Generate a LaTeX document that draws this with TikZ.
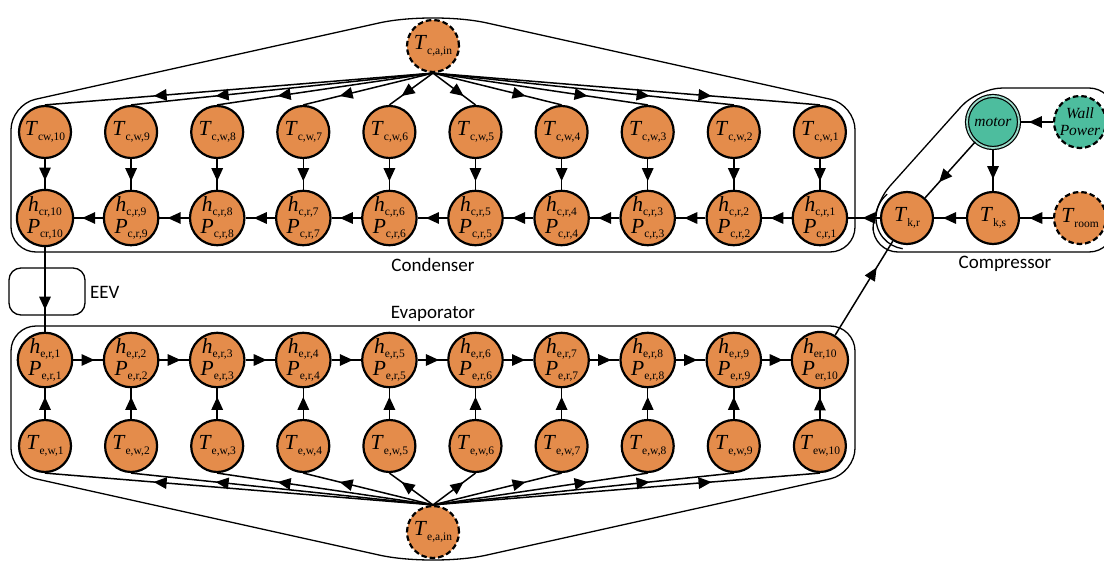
\documentclass[tikz,border=0pt]{standalone}
\usepackage{fontspec}
\setmainfont{Liberation Serif}
\newfontfamily\capfont{Carlito}
\usetikzlibrary{arrows.meta,decorations.markings}

\definecolor{nodeorange}{RGB}{228,140,75}
\definecolor{nodeteal}{RGB}{77,189,158}

% italic symbol with a small upright subscript
\newcommand\varsub[2]{\textit{#1}\raisebox{-4.5pt}{\fontsize{11.5}{11.5}\selectfont #2}}

\tikzset{
  var/.style={circle, draw=black, line width=2.2pt, fill=nodeorange,
    minimum size=52pt, inner sep=0pt, align=center,
    font=\fontsize{21.5}{22}\selectfont},
  obs/.style={var, dash pattern=on 5.5pt off 3pt},
  power/.style={obs, fill=nodeteal, font=\fontsize{15.5}{17}\selectfont},
  motornode/.style={circle, draw=black, line width=1.2pt, double=nodeteal!55!white,
    double distance=1.8pt, fill=nodeteal, minimum size=52pt, inner sep=0pt,
    font=\fontsize{15.5}{17}\selectfont\itshape},
  flow/.style={line width=1.5pt, postaction={decorate},
    decoration={markings, mark=at position #1 with {\arrow{Triangle[length=13pt,width=11.5pt]}}}},
  flow/.default=0.72,
  group/.style={line width=1.3pt, rounded corners=25pt},
  grouplabel/.style={font=\capfont\fontsize{19}{19}\selectfont, inner sep=0pt}
}

\begin{document}
\begin{tikzpicture}[x=1pt,y=1pt]
\useasboundingbox (0,0) rectangle (1104,-562);

% ---------- group outlines ----------
\draw[group] (433,-252) -- (11,-252) -- (11,-104.7) [rounded corners=55pt] -- (433,-11)
  [rounded corners=25pt] -- (855,-104.7) -- (855,-252) -- cycle;
\draw[group] (433,-326) -- (11,-326) -- (11,-473.3) [rounded corners=55pt] -- (433,-567)
  [rounded corners=25pt] -- (855,-473.3) -- (855,-326) -- cycle;
\draw[group] (990,-252) -- (873,-252) -- (873,-205) -- (977.8,-88) -- (1114,-88) -- (1114,-252) -- cycle;
\draw[line width=1.3pt, rounded corners=12pt] (9,-268) rectangle (85,-315);

\node[grouplabel] (lcond) at (433,-265) {Condenser};
\node[grouplabel] (levap) at (433,-314) {Evaporator};
\node[grouplabel] (lcomp) at (1005,-264) {Compressor};
\node[grouplabel, anchor=west] (leev) at (90,-292) {EEV};

% ---------- condenser ----------
\node[obs] (tcain) at (433,-46) {\varsub{T}{c,a,in}};
\foreach \k in {1,...,10}{
  \pgfmathsetmacro\cx{45+86.1*(10-\k)}
  \node[var] (cw\k) at (\cx,-132) {\varsub{T}{\ifnum\k=10 cw,10\else c,w,\k\fi}};
  \node[var] (cr\k) at (\cx,-218) {\varsub{h}{\ifnum\k=10 cr,10\else c,r,\k\fi}\\
                                   \varsub{P}{\ifnum\k=10 cr,10\else c,r,\k\fi}};
}

% ---------- evaporator ----------
\node[obs] (teain) at (433,-532) {\varsub{T}{e,a,in}};
\foreach \k in {1,...,10}{
  \pgfmathsetmacro\cx{45+86.1*(\k-1)}
  \node[var] (ew\k) at (\cx,-446) {\varsub{T}{\ifnum\k=10 ew,10\else e,w,\k\fi}};
  \node[var] (er\k) at (\cx,-360) {\varsub{h}{\ifnum\k=10 er,10\else e,r,\k\fi}\\
                                   \varsub{P}{\ifnum\k=10 er,10\else e,r,\k\fi}};
}

% ---------- compressor ----------
\node[motornode] (motor) at (993,-122) {motor};
\node[power] (wall) at (1080,-122) {\textit{Wall}\\\textit{Power}};
\node[var] (tkr) at (907,-218) {\varsub{T}{k,r}};
\node[var] (tks) at (993,-218) {\varsub{T}{k,s}};
\node[obs] (troom) at (1080,-218) {\varsub{T}{room}};
\draw[line width=1.3pt] ([shift={(130:31pt)}]tkr.center) arc[start angle=130, end angle=262, radius=31pt];

% ---------- connectors ----------
\foreach \k in {1,...,10}{
  \draw[flow] (tcain.south) -- (cw\k.north);
  \draw[flow] (cw\k) -- (cr\k);
  \draw[flow] (teain.north) -- (ew\k.south);
  \draw[flow] (ew\k) -- (er\k);
}
\foreach \k [evaluate=\k as \n using int(\k+1)] in {1,...,9}{
  \draw[flow] (cr\k) -- (cr\n);
  \draw[flow] (er\k) -- (er\n);
}
\draw[flow=0.74] (cr10) -- (er1);
\draw[flow] (er10) -- (tkr);
\draw[flow=0.55] (tkr) -- (cr1);
\draw[flow] (tks) -- (tkr);
\draw[flow] (troom) -- (tks);
\draw[flow] (wall) -- (motor);
\draw[flow] (motor) -- (tks);
\draw[flow] (motor) -- (tkr);
\end{tikzpicture}
\end{document}
